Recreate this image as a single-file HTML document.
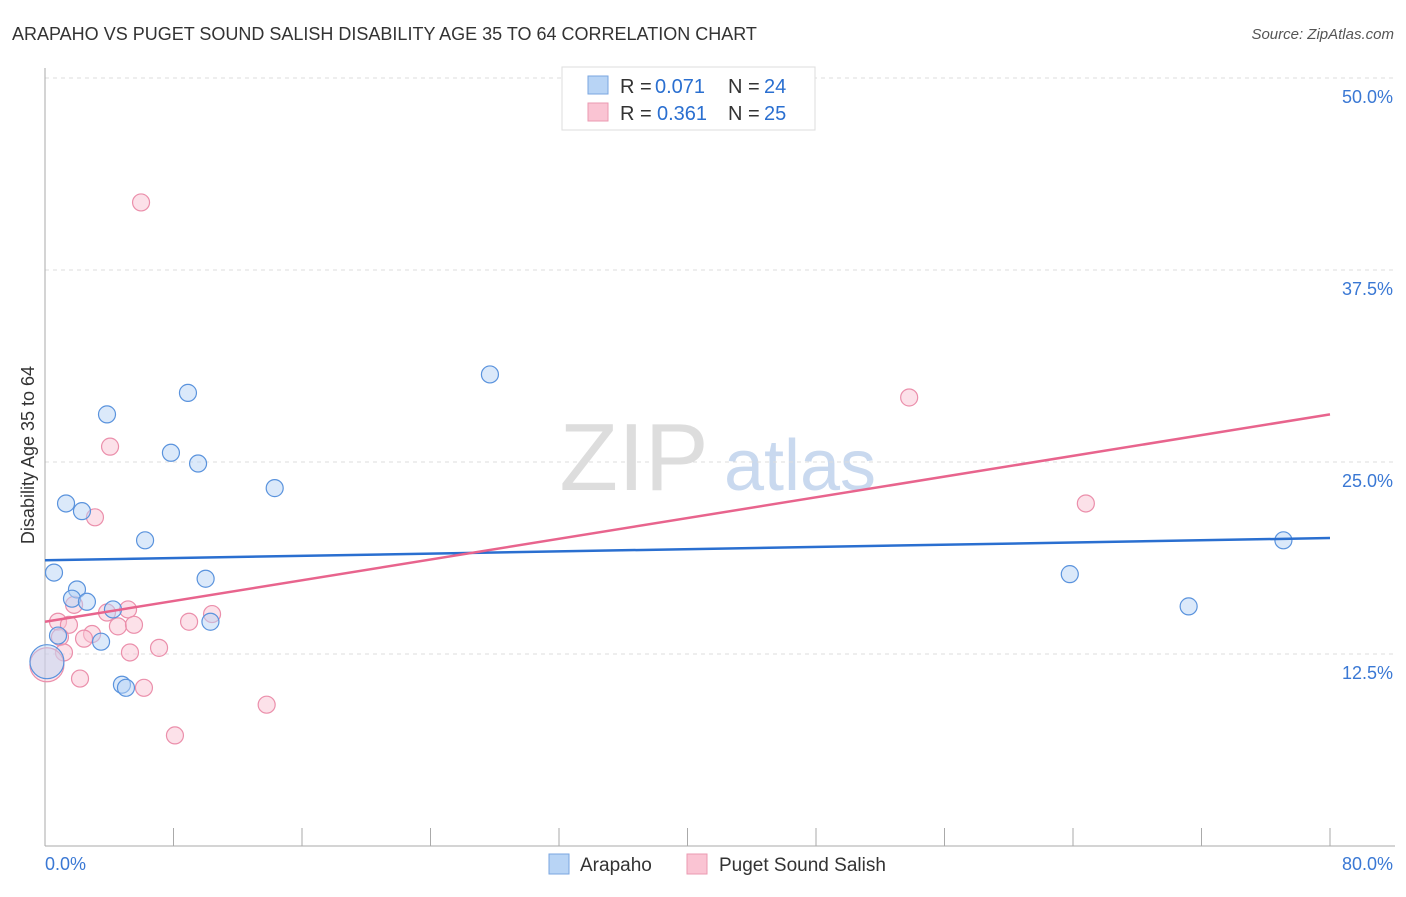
<!DOCTYPE html>
<html><head><meta charset="utf-8"><style>
body{margin:0;background:#fff;font-family:"Liberation Sans",sans-serif}
svg text{font-family:"Liberation Sans",sans-serif}
</style></head><body>
<svg id="c" width="1406" height="892" xmlns="http://www.w3.org/2000/svg">
<text x="12" y="40" font-size="18" fill="#333">ARAPAHO VS PUGET SOUND SALISH DISABILITY AGE 35 TO 64 CORRELATION CHART</text>
<text x="1394" y="39" font-size="15" fill="#555" text-anchor="end" font-style="italic">Source: ZipAtlas.com</text>
<text x="634" y="490" font-size="96" fill="#ddd" font-family="Liberation Serif" text-anchor="middle">ZIP</text>
<text x="800" y="490" font-size="72" fill="#c9d9ef" text-anchor="middle">atlas</text>
<g id="grid"></g><g id="axes"></g><g id="marks"></g>
<text transform="translate(34,455) rotate(-90)" font-size="18" fill="#333" text-anchor="middle">Disability Age 35 to 64</text>
<g>
<rect x="562" y="67" width="253" height="63" fill="#fff" stroke="#ddd"/>
<rect x="588" y="76" width="20" height="18" fill="#b8d4f5" stroke="#7aa6e0"/>
<rect x="588" y="103" width="20" height="18" fill="#fac4d3" stroke="#eb9ab2"/>
<text x="620" y="93" font-size="20" fill="#333">R =</text>
<text x="655" y="93" font-size="20" fill="#2a6fd0">0.071</text>
<text x="728" y="93" font-size="20" fill="#333">N =</text>
<text x="764" y="93" font-size="20" fill="#2a6fd0">24</text>
<text x="620" y="120" font-size="20" fill="#333">R =</text>
<text x="657" y="120" font-size="20" fill="#2a6fd0">0.361</text>
<text x="728" y="120" font-size="20" fill="#333">N =</text>
<text x="764" y="120" font-size="20" fill="#2a6fd0">25</text>
</g>
<g>
<rect x="549" y="854" width="20" height="20" fill="#b8d4f5" stroke="#7aa6e0"/>
<text x="580" y="871" font-size="19" fill="#333">Arapaho</text>
<rect x="687" y="854" width="20" height="20" fill="#fac4d3" stroke="#eb9ab2"/>
<text x="719" y="871" font-size="19" fill="#333">Puget Sound Salish</text>
</g>
</svg>
<script>
const blueX=[3.86,8.9,27.7,7.84,9.53,14.3,1.31,2.3,6.23,0.56,10.0,1.99,1.68,2.61,4.23,10.3,0.81,3.49,4.79,5.04,63.8,71.2,77.1,0.12];
const blueY=[28.1,29.5,30.7,25.6,24.9,23.3,22.3,21.8,19.9,17.8,17.4,16.7,16.1,15.9,15.4,14.6,13.7,13.3,10.5,10.3,17.7,15.6,19.9,12.0];
const pinkX=[5.98,4.05,3.11,53.8,64.8,1.81,5.17,3.86,10.4,0.81,1.49,4.54,5.54,8.97,2.93,2.43,0.93,1.18,5.29,7.1,2.18,6.16,13.8,8.09,0.12];
const pinkY=[41.9,26.0,21.4,29.2,22.3,15.7,15.4,15.2,15.1,14.6,14.4,14.3,14.4,14.6,13.8,13.5,13.6,12.6,12.6,12.9,10.9,10.3,9.2,7.2,11.8];
const blueLine=[18.6,20.05];
const pinkLine=[14.6,28.1];
const yTicks=[12.5,25,37.5,50];
const yTickLabels=["12.5%","25.0%","37.5%","50.0%"];
const xTicks=[0,8,16,24,32,40,48,56,64,72,80];
const NS="http://www.w3.org/2000/svg";
const sx=v=>45+v/80*1285, sy=v=>846-v/12.5*192;
function mk(tag,p,parent){const e=document.createElementNS(NS,tag);for(const k in p)e.setAttribute(k,p[k]);document.getElementById(parent).appendChild(e);return e;}
yTicks.forEach((t,i)=>{
 const g=mk('line',{x1:45,x2:1395,y1:sy(t),y2:sy(t),stroke:'#ddd','stroke-dasharray':'4,4'},'grid');
 
 
 const l=mk('text',{x:1393,y:sy(t)+25,'font-size':18,fill:'#3a78d4','text-anchor':'end'},'axes');
 l.textContent=yTickLabels[i];
 
 
});
let a=mk('line',{x1:45,x2:45,y1:68,y2:846,stroke:'#aaa'},'axes');


a=mk('line',{x1:45,x2:1395,y1:846,y2:846,stroke:'#aaa'},'axes');


xTicks.forEach(t=>{const e=mk('line',{x1:sx(t),x2:sx(t),y1:828,y2:846,stroke:'#aaa'},'axes');
 
 });
let t0=mk('text',{x:45,y:870,'font-size':18,fill:'#3a78d4'},'axes');t0.textContent='0.0%';


let t1=mk('text',{x:1393,y:870,'font-size':18,fill:'#3a78d4','text-anchor':'end'},'axes');t1.textContent='80.0%';


function pts(X,Y,fill,stroke,name){X.forEach((x,i)=>{const big=i===X.length-1;
 const c=mk('circle',{cx:sx(x),cy:sy(Y[i]),r:big?17:8.5,fill:fill,'fill-opacity':big?0.45:0.5,stroke:stroke,'stroke-width':1.2},'marks');
 
 });}
pts(pinkX,pinkY,'#fac4d3','#eb8fab','point-puget');
pts(blueX,blueY,'#b8d4f5','#5a93dd','point-arapaho');
let bl=mk('line',{x1:sx(0),x2:sx(80),y1:sy(blueLine[0]),y2:sy(blueLine[1]),stroke:'#2a6fd0','stroke-width':2.5},'marks');


let pl=mk('line',{x1:sx(0),x2:sx(80),y1:sy(pinkLine[0]),y2:sy(pinkLine[1]),stroke:'#e8648d','stroke-width':2.5},'marks');


</script>
</body></html>
